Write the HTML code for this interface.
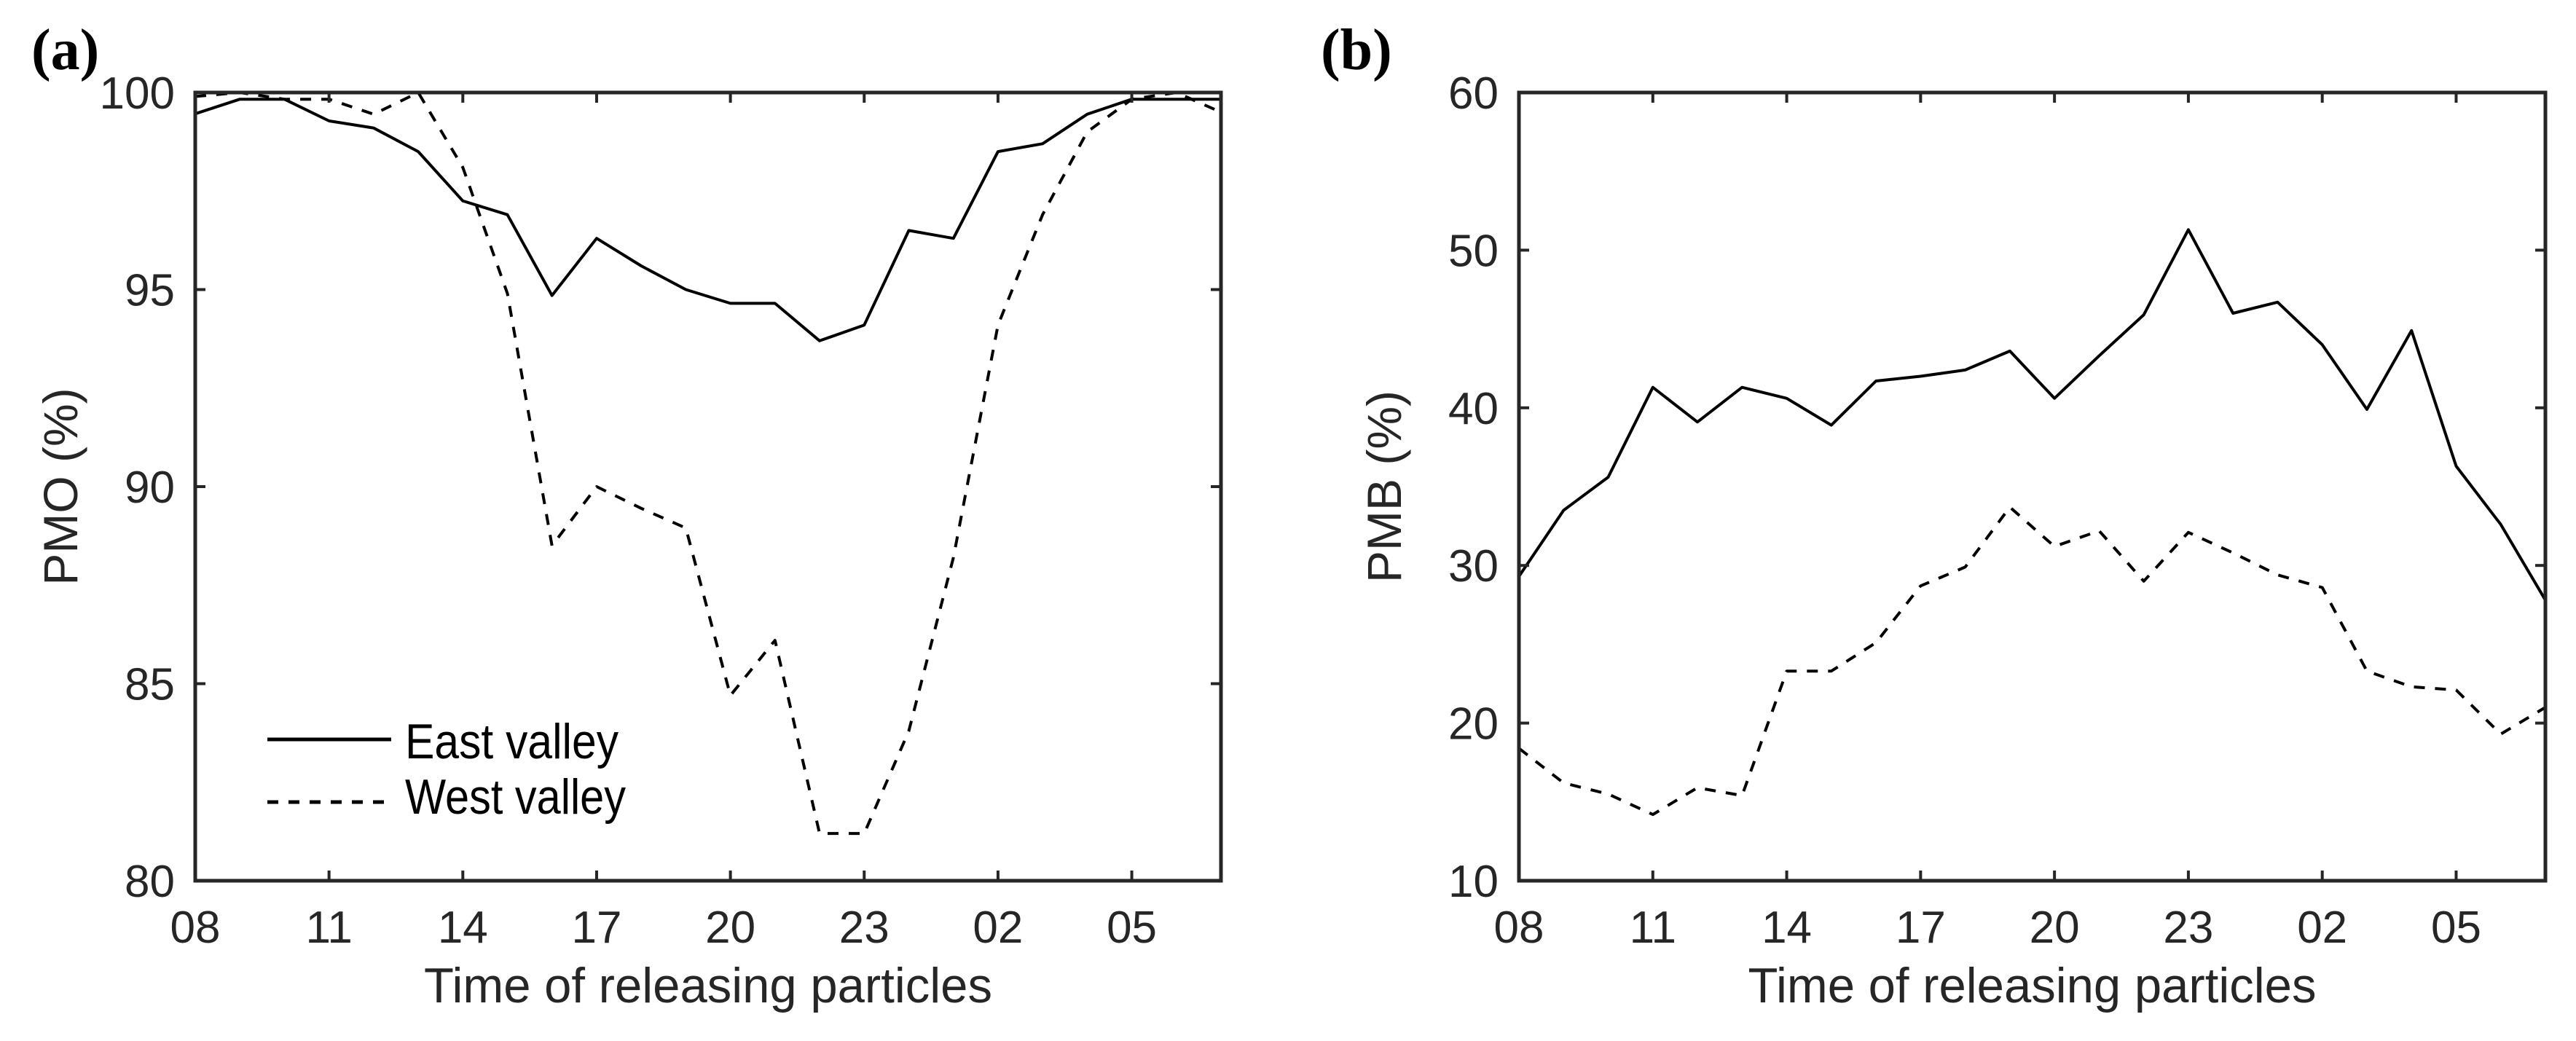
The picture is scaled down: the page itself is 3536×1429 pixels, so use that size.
<!DOCTYPE html>
<html><head><meta charset="utf-8"><style>
html,body{margin:0;padding:0;background:#fff;}
svg{display:block;}
text{font-family:"Liberation Sans",Arial,sans-serif;fill:#262626;}
</style></head><body>
<svg id="chart" width="3536" height="1429" viewBox="0 0 3536 1429" xmlns="http://www.w3.org/2000/svg"></svg>
<script>
const hours = ["08","09","10","11","12","13","14","15","16","17","18","19","20","21","22","23","00","01","02","03","04","05","06","07"];
const xTickLabels = ["08","11","14","17","20","23","02","05"];
const pmoEast = [99.46,99.83,99.83,99.28,99.1,98.5,97.25,96.9,94.85,96.3,95.6,95.0,94.65,94.65,93.7,94.1,96.5,96.3,98.5,98.7,99.45,99.83,99.83,99.83];
const pmoWest = [99.9,100,99.83,99.83,99.45,100,98.1,94.9,88.5,90.0,89.45,88.95,84.7,86.1,81.2,81.2,83.8,88.2,94.1,96.9,99.0,99.83,100,99.5];
const pmbEast = [29.3,33.5,35.6,41.3,39.1,41.3,40.6,38.9,41.7,42.0,42.4,43.6,40.6,43.3,45.9,51.3,46.0,46.7,44.0,39.9,44.9,36.3,32.6,27.8];
const pmbWest = [18.4,16.2,15.5,14.2,15.9,15.4,23.3,23.3,25.1,28.7,29.9,33.7,31.2,32.2,29.0,32.1,30.8,29.4,28.6,23.3,22.3,22.1,19.3,21.0];
const pmoTicks = [80,85,90,95,100];
const pmbTicks = [10,20,30,40,50,60];

const NS="http://www.w3.org/2000/svg";
const svg=document.getElementById('chart');
function mk(tag,attrs,parent){const e=document.createElementNS(NS,tag);for(const k in attrs)e.setAttribute(k,attrs[k]);(parent||svg).appendChild(e);return e;}
const DASH='15 14';

function panel(cfg){
  const g=mk('g',{});
  
  
  const L=cfg.left,R=cfg.right,T=127,B=1209;
  const xs=i=>L+(R-L)*i/(hours.length-1);
  const ys=v=>B-(B-T)*(v-cfg.ymin)/(cfg.ymax-cfg.ymin);
  function series(vals,dash,nm){
    const p=mk('polyline',{points:vals.map((v,i)=>xs(i).toFixed(1)+','+ys(v).toFixed(1)).join(' '),fill:'none',stroke:'#000','stroke-width':4,'stroke-linejoin':'round'},g);
    if(dash)p.setAttribute('stroke-dasharray',DASH);
    
    
  }
  series(cfg.east,false,'east-valley-line');
  series(cfg.west,true,'west-valley-line');
  const fr=mk('rect',{x:L,y:T,width:R-L,height:B-T,fill:'none',stroke:'#262626','stroke-width':5},g);
  
  
  xTickLabels.forEach((lab,k)=>{
    const x=xs(hours.indexOf(lab));
    mk('line',{x1:x,y1:B,x2:x,y2:B-14,stroke:'#262626','stroke-width':4},g);
    mk('line',{x1:x,y1:T,x2:x,y2:T+14,stroke:'#262626','stroke-width':4},g);
    const t=mk('text',{x:x,y:1294,'font-size':62,'text-anchor':'middle'},g);
    t.textContent=lab;
    
    
  });
  cfg.ticks.forEach(v=>{
    const y=ys(v);
    mk('line',{x1:L,y1:y,x2:L+14,y2:y,stroke:'#262626','stroke-width':4},g);
    mk('line',{x1:R,y1:y,x2:R-14,y2:y,stroke:'#262626','stroke-width':4},g);
    const t=mk('text',{x:L-28,y:y+22,'font-size':62,'text-anchor':'end'},g);
    t.textContent=v;
    
    
  });
  const xt=mk('text',{x:(L+R)/2-390,y:1376,'font-size':68,textLength:780,lengthAdjust:'spacingAndGlyphs'},g);
  xt.textContent='Time of releasing particles';
  
  
  const yt=mk('text',{x:0,y:0,'font-size':66,'text-anchor':'middle',transform:`translate(${L-162},${(T+B)/2}) rotate(-90)`},g);
  yt.textContent=cfg.ylabel;
  
  
  const pl=mk('text',{x:cfg.labelX,y:95,'font-size':80,'font-weight':'bold',style:'font-family:"Liberation Serif",serif;fill:#000'},g);
  pl.textContent=cfg.tag;
  
  
}
panel({name:'panel-a-pmo',left:268,right:1676,ymin:80,ymax:100,ticks:pmoTicks,east:pmoEast,west:pmoWest,ylabel:'PMO (%)',tag:'(a)',labelX:43});
panel({name:'panel-b-pmb',left:2085,right:3494,ymin:10,ymax:60,ticks:pmbTicks,east:pmbEast,west:pmbWest,ylabel:'PMB (%)',tag:'(b)',labelX:1813});

const lg=mk('g',{});


const e1=mk('line',{x1:367,y1:1015,x2:537,y2:1015,stroke:'#000','stroke-width':5},lg);


const e2=mk('line',{x1:367,y1:1101,x2:537,y2:1101,stroke:'#000','stroke-width':5,'stroke-dasharray':DASH},lg);


const t1=mk('text',{x:556,y:1041,'font-size':68,textLength:293,lengthAdjust:'spacingAndGlyphs',style:'fill:#000'},lg);t1.textContent='East valley';


const t2=mk('text',{x:556,y:1117,'font-size':68,textLength:303,lengthAdjust:'spacingAndGlyphs',style:'fill:#000'},lg);t2.textContent='West valley';


</script>
</body></html>
